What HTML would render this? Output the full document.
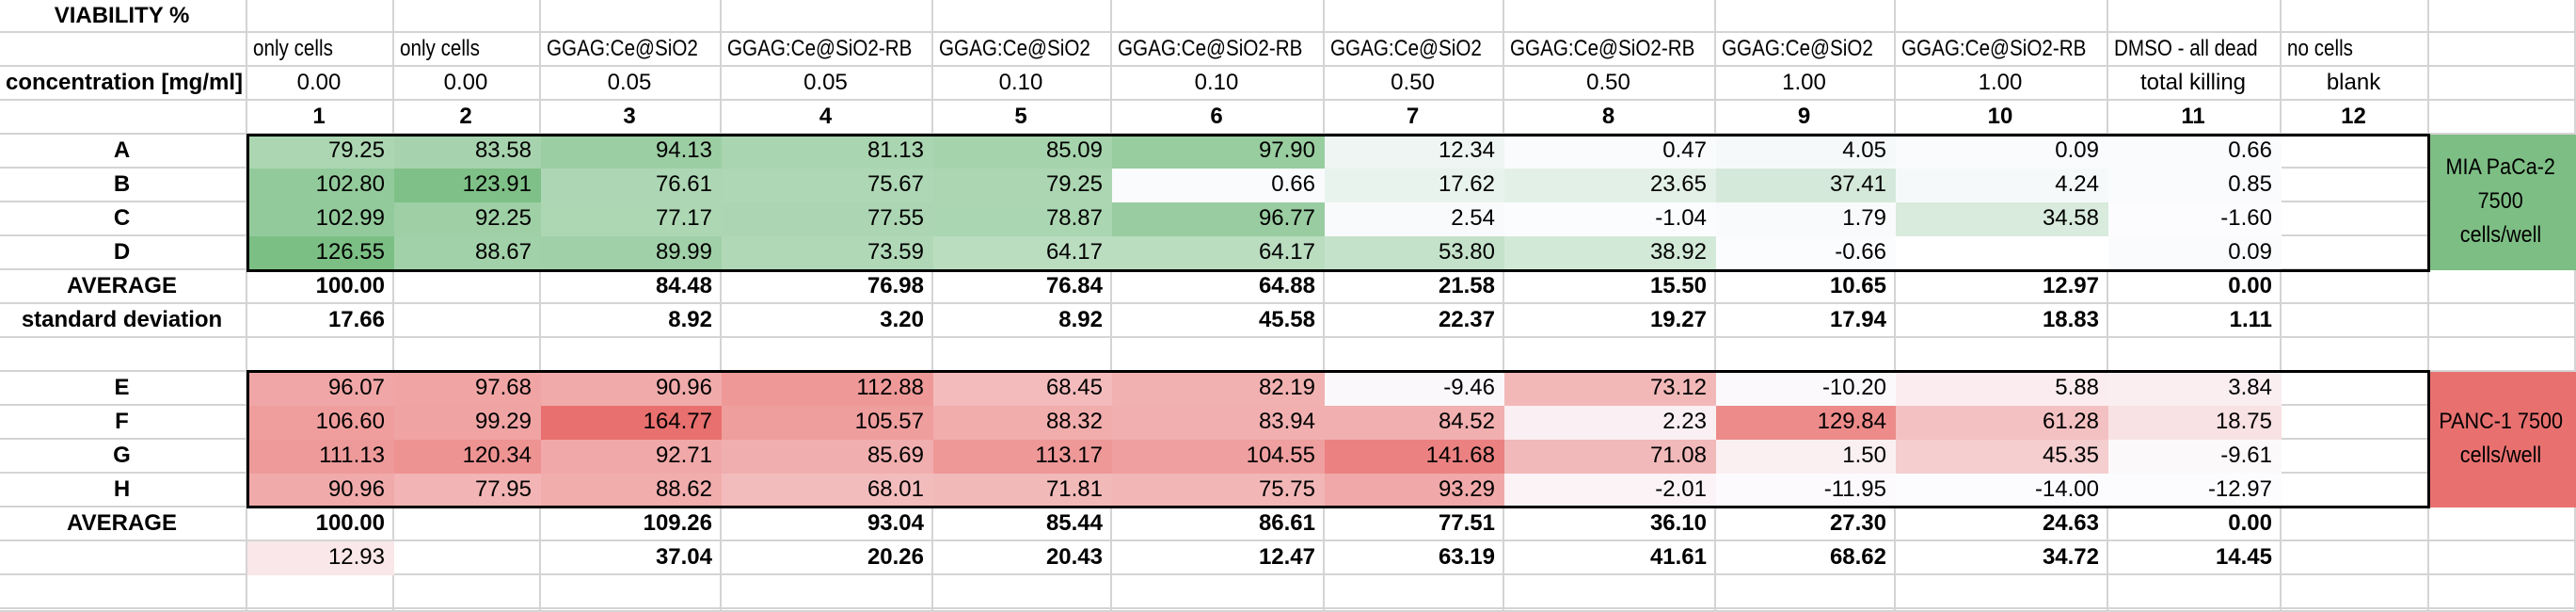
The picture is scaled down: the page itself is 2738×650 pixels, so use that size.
<!DOCTYPE html>
<html><head><meta charset="utf-8">
<style>
html,body{margin:0;padding:0;background:#fff;}
#w{position:relative;width:2738px;height:650px;overflow:hidden;}
#g{display:grid;grid-template-columns:263px 156px 156px 192px 225px 190px 226px 191px 225px 191px 226px 184px 157px 156px;
grid-template-rows:35px repeat(17,36px) 3px;font-family:"Liberation Sans",sans-serif;font-size:24px;color:#000;}
#g>div{box-sizing:border-box;border-right:2px solid #d4d4d4;border-bottom:2px solid #d4d4d4;white-space:nowrap;overflow:hidden;line-height:34px;padding:0 8px 0 6px;}
.b{font-weight:bold;}
.m{text-align:center;}
.n{text-align:right;}
.h span{display:inline-block;transform:scaleX(0.86);transform-origin:0 50%;}
.lab{display:flex;flex-direction:column;justify-content:center;align-items:center;line-height:36px!important;text-align:center;}
.lab span{display:block;transform:scaleX(0.9);}
.box{position:absolute;border:3px solid #000;box-sizing:border-box;left:262px;width:2321px;height:147px;}
</style></head><body><div id="w"><div id="g">
<div class="b m">VIABILITY %</div><div></div><div></div><div></div><div></div><div></div><div></div><div></div><div></div><div></div><div></div><div></div><div></div><div></div>
<div></div><div class="h"><span>only cells</span></div><div class="h"><span>only cells</span></div><div class="h"><span>GGAG:Ce@SiO2</span></div><div class="h"><span>GGAG:Ce@SiO2-RB</span></div><div class="h"><span>GGAG:Ce@SiO2</span></div><div class="h"><span>GGAG:Ce@SiO2-RB</span></div><div class="h"><span>GGAG:Ce@SiO2</span></div><div class="h"><span>GGAG:Ce@SiO2-RB</span></div><div class="h"><span>GGAG:Ce@SiO2</span></div><div class="h"><span>GGAG:Ce@SiO2-RB</span></div><div class="h"><span>DMSO - all dead</span></div><div class="h"><span>no cells</span></div><div></div>
<div class="b m">concentration [mg/ml]</div><div class="m">0.00</div><div class="m">0.00</div><div class="m">0.05</div><div class="m">0.05</div><div class="m">0.10</div><div class="m">0.10</div><div class="m">0.50</div><div class="m">0.50</div><div class="m">1.00</div><div class="m">1.00</div><div class="m">total killing</div><div class="m">blank</div><div></div>
<div></div><div class="b m">1</div><div class="b m">2</div><div class="b m">3</div><div class="b m">4</div><div class="b m">5</div><div class="b m">6</div><div class="b m">7</div><div class="b m">8</div><div class="b m">9</div><div class="b m">10</div><div class="b m">11</div><div class="b m">12</div><div></div>
<div class="b m">A</div><div class="n g">79.25</div><div class="n g">83.58</div><div class="n g">94.13</div><div class="n g">81.13</div><div class="n g">85.09</div><div class="n g">97.90</div><div class="n g">12.34</div><div class="n g">0.47</div><div class="n g">4.05</div><div class="n g">0.09</div><div class="n g">0.66</div><div></div><div class="lab" style="grid-column:14;grid-row:5/span 4;background:#7DBE84;border-color:#7DBE84"><span>MIA PaCa-2</span><span>7500</span><span>cells/well</span></div>
<div class="b m">B</div><div class="n g">102.80</div><div class="n g">123.91</div><div class="n g">76.61</div><div class="n g">75.67</div><div class="n g">79.25</div><div class="n g">0.66</div><div class="n g">17.62</div><div class="n g">23.65</div><div class="n g">37.41</div><div class="n g">4.24</div><div class="n g">0.85</div><div></div>
<div class="b m">C</div><div class="n g">102.99</div><div class="n g">92.25</div><div class="n g">77.17</div><div class="n g">77.55</div><div class="n g">78.87</div><div class="n g">96.77</div><div class="n g">2.54</div><div class="n g">-1.04</div><div class="n g">1.79</div><div class="n g">34.58</div><div class="n g">-1.60</div><div></div>
<div class="b m">D</div><div class="n g">126.55</div><div class="n g">88.67</div><div class="n g">89.99</div><div class="n g">73.59</div><div class="n g">64.17</div><div class="n g">64.17</div><div class="n g">53.80</div><div class="n g">38.92</div><div class="n g">-0.66</div><div style="border-color:#fff"></div><div class="n g">0.09</div><div></div>
<div class="b m">AVERAGE</div><div class="b n">100.00</div><div></div><div class="b n">84.48</div><div class="b n">76.98</div><div class="b n">76.84</div><div class="b n">64.88</div><div class="b n">21.58</div><div class="b n">15.50</div><div class="b n">10.65</div><div class="b n">12.97</div><div class="b n">0.00</div><div></div><div></div>
<div class="b m">standard deviation</div><div class="b n">17.66</div><div></div><div class="b n">8.92</div><div class="b n">3.20</div><div class="b n">8.92</div><div class="b n">45.58</div><div class="b n">22.37</div><div class="b n">19.27</div><div class="b n">17.94</div><div class="b n">18.83</div><div class="b n">1.11</div><div></div><div></div>
<div></div><div></div><div></div><div></div><div></div><div></div><div></div><div></div><div></div><div></div><div></div><div></div><div></div><div></div>
<div class="b m">E</div><div class="n r">96.07</div><div class="n r">97.68</div><div class="n r">90.96</div><div class="n r">112.88</div><div class="n r">68.45</div><div class="n r">82.19</div><div class="n r">-9.46</div><div class="n r">73.12</div><div class="n r">-10.20</div><div class="n r">5.88</div><div class="n r">3.84</div><div></div><div class="lab" style="grid-column:14;grid-row:12/span 4;background:#E8716F;border-color:#E8716F"><span>PANC-1 7500</span><span>cells/well</span></div>
<div class="b m">F</div><div class="n r">106.60</div><div class="n r">99.29</div><div class="n r">164.77</div><div class="n r">105.57</div><div class="n r">88.32</div><div class="n r">83.94</div><div class="n r">84.52</div><div class="n r">2.23</div><div class="n r">129.84</div><div class="n r">61.28</div><div class="n r">18.75</div><div></div>
<div class="b m">G</div><div class="n r">111.13</div><div class="n r">120.34</div><div class="n r">92.71</div><div class="n r">85.69</div><div class="n r">113.17</div><div class="n r">104.55</div><div class="n r">141.68</div><div class="n r">71.08</div><div class="n r">1.50</div><div class="n r">45.35</div><div class="n r">-9.61</div><div></div>
<div class="b m">H</div><div class="n r">90.96</div><div class="n r">77.95</div><div class="n r">88.62</div><div class="n r">68.01</div><div class="n r">71.81</div><div class="n r">75.75</div><div class="n r">93.29</div><div class="n r">-2.01</div><div class="n r">-11.95</div><div class="n r">-14.00</div><div class="n r">-12.97</div><div></div>
<div class="b m">AVERAGE</div><div class="b n">100.00</div><div></div><div class="b n">109.26</div><div class="b n">93.04</div><div class="b n">85.44</div><div class="b n">86.61</div><div class="b n">77.51</div><div class="b n">36.10</div><div class="b n">27.30</div><div class="b n">24.63</div><div class="b n">0.00</div><div></div><div></div>
<div></div><div class="n r">12.93</div><div></div><div class="b n">37.04</div><div class="b n">20.26</div><div class="b n">20.43</div><div class="b n">12.47</div><div class="b n">63.19</div><div class="b n">41.61</div><div class="b n">68.62</div><div class="b n">34.72</div><div class="b n">14.45</div><div></div><div></div>
<div></div><div></div><div></div><div></div><div></div><div></div><div></div><div></div><div></div><div></div><div></div><div></div><div></div><div></div>
<div></div><div></div><div></div><div></div><div></div><div></div><div></div><div></div><div></div><div></div><div></div><div></div><div></div><div></div>
</div>
<div class="box" style="top:142px"></div>
<div class="box" style="top:393px"></div>
</div>
<script>
function col(t,e){t=Math.max(0,Math.min(1,t));var s=[252,252,255];return 'rgb('+s.map(function(v,i){return Math.round(v+(e[i]-v)*t)}).join(',')+')';}
document.querySelectorAll('.g').forEach(function(d){var v=parseFloat(d.textContent);var c=col((v+1.6)/128.15,[123,191,132]);d.style.background=c;d.style.borderColor=c;});
document.querySelectorAll('.r').forEach(function(d){var v=parseFloat(d.textContent);var c=col((v+14)/178.77,[232,112,110]);d.style.background=c;d.style.borderColor=c;});
</script>
</body></html>
